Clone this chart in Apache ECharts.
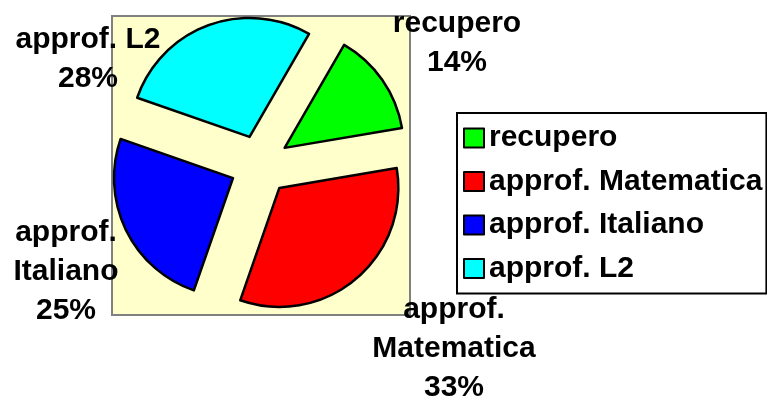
<!DOCTYPE html>
<html>
<head>
<meta charset="utf-8">
<script src="https://cdn.jsdelivr.net/npm/echarts@6/dist/echarts.min.js"></script>
<style>
html, body { margin: 0; padding: 0; background: #fff; }
#main { width: 767px; height: 401px; }
</style>
</head>
<body>
<div id="main"></div>
<script>
// dati del grafico
var categorie = ['recupero', 'approf. Matematica', 'approf. Italiano', 'approf. L2'];
var valori = [14, 33, 25, 28];
var etichette = ['recupero', 'approf.\nMatematica', 'approf.\nItaliano', 'approf. L2'];
var colori = ['#00ff00', '#ff0000', '#0000ff', '#00ffff'];

// centro di ogni blocco etichetta (px)
var posEtichette = [[457, 43], [454, 349], [66, 272], [88, 59]];

var font = 'bold 30px Arial, "Liberation Sans", sans-serif';
var myChart = echarts.init(document.getElementById('main'));

var totale = valori.reduce(function (a, b) { return a + b; }, 0);

// area del grafico (sfondo giallo)
var elementi = [{
    type: 'rect',
    z: -10,
    shape: { x: 112, y: 16, width: 298, height: 299 },
    style: { fill: '#ffffcc', stroke: '#808080', lineWidth: 2 }
}];
// etichette dei dati
etichette.forEach(function (t, i) {
    elementi.push({
        type: 'text',
        z: 10,
        x: posEtichette[i][0],
        y: posEtichette[i][1],
        style: {
            text: t + '\n' + Math.round(valori[i] / totale * 100) + '%',
            font: font,
            fill: '#000',
            lineHeight: 39,
            align: 'center',
            verticalAlign: 'middle'
        }
    });
});

var option = {
    animation: false,
    graphic: { elements: elementi },
    legend: {
        orient: 'vertical',
        left: 457,
        top: 113,
        padding: [10, 4, 10, 6],
        itemGap: 13.5,
        itemWidth: 20,
        itemHeight: 19,
        itemTextGap: 10,
        icon: 'rect',
        itemStyle: { borderColor: '#000', borderWidth: 2 },
        borderColor: '#000',
        borderWidth: 2,
        backgroundColor: '#fff',
        textStyle: { fontFamily: 'Arial, "Liberation Sans", sans-serif', fontWeight: 'bold', fontSize: 30, color: '#000' },
        data: categorie
    },
    series: [{
        type: 'pie',
        center: [260, 165],
        radius: 119,
        startAngle: 60,
        clockwise: true,
        selectedMode: 'multiple',
        selectedOffset: 30,
        avoidLabelOverlap: false,
        itemStyle: { borderColor: '#000', borderWidth: 2.5 },
        label: { show: false },
        labelLine: { show: false },
        emphasis: { disabled: true },
        data: categorie.map(function (c, i) {
            return { name: c, value: valori[i], selected: true, itemStyle: { color: colori[i] } };
        })
    }]
};

myChart.setOption(option);
</script>
</body>
</html>
